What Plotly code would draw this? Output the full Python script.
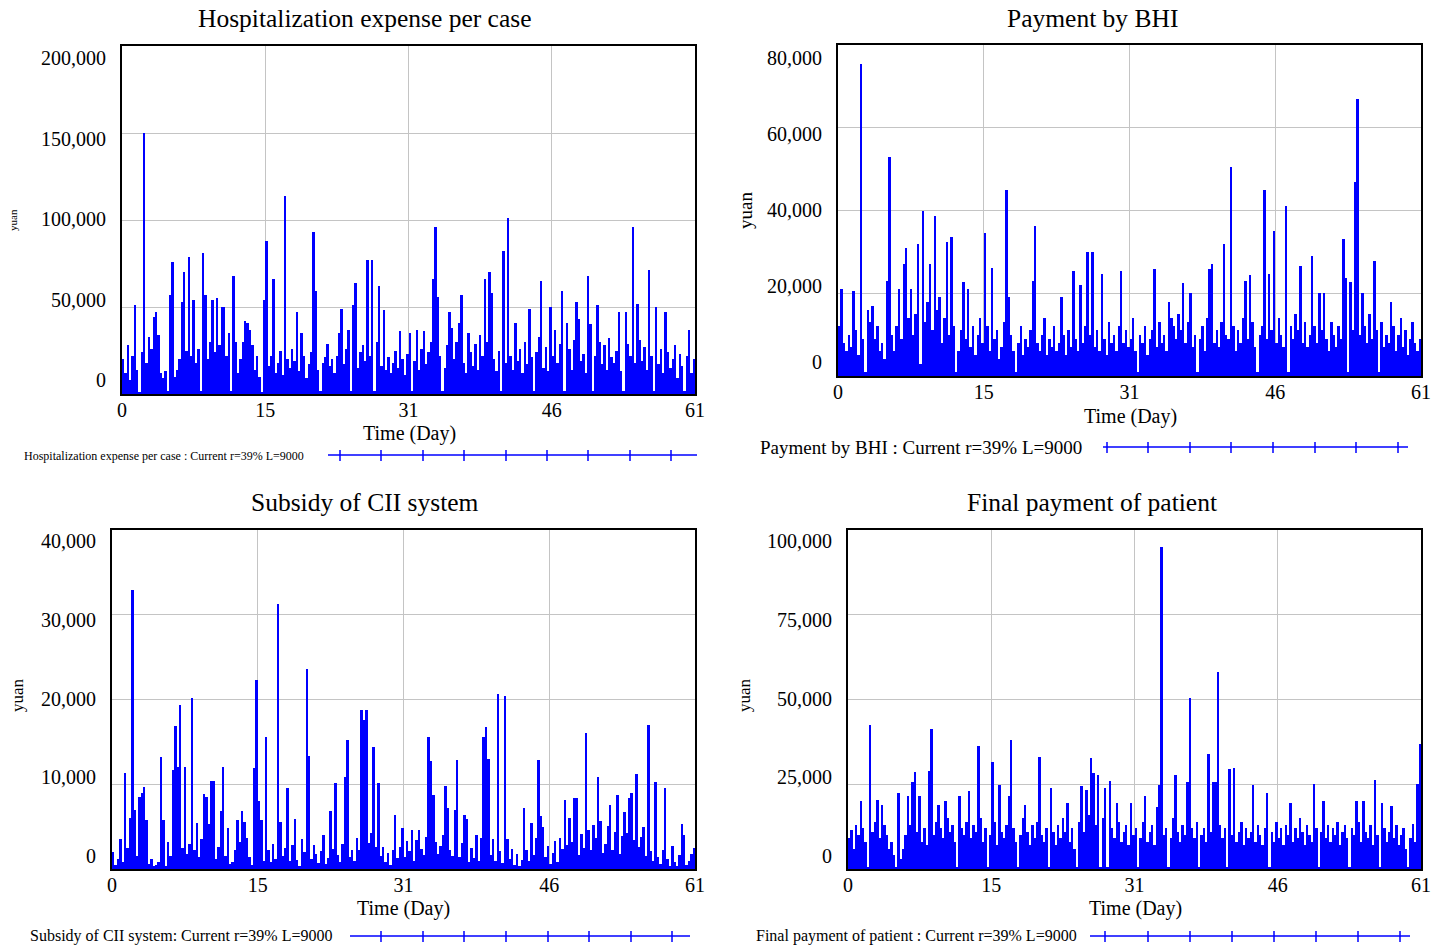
import plotly.graph_objects as go

# ---------------- data (thousand yuan, one value per 0.25 day) ----------------
TIME_STEP_DAY = 0.25
N_STEPS = 244

hosp_expense_k = [
    20, 12, 28, 8, 22, 51, 14, 1, 24, 150,
    18, 33, 26, 44, 47, 34, 12, 9, 13, 2,
    57, 76, 10, 14, 20, 53, 70, 25, 79, 22,
    54, 18, 26, 2, 81, 57, 20, 30, 54, 24,
    55, 28, 50, 50, 22, 35, 1.5, 68, 30, 12,
    20, 30, 42, 41, 37, 28, 14, 22, 10, 1,
    54, 88, 16, 22, 66, 12, 18, 25, 11, 114,
    20, 15, 26, 19, 47, 13, 35, 22, 9, 17,
    24, 93, 59, 14, 1.5, 18, 21, 29, 16, 20,
    12, 22, 35, 49, 17, 26, 37, 1.5, 51, 64,
    15, 24, 28, 19, 77, 22, 77, 2, 30, 62,
    16, 48, 14, 21, 12, 18, 25, 15, 36, 20,
    11, 23, 35, 1.5, 19, 37, 14, 26, 36, 17,
    24, 30, 66, 96, 56, 22, 1.5, 15, 28, 47,
    38, 20, 30, 41, 57, 18, 12, 35, 24, 16,
    29, 14, 34, 22, 66, 30, 70, 58, 20, 13,
    25, 2, 82, 18, 101, 22, 14, 41, 19, 26,
    12, 30, 17, 49, 21, 1.5, 24, 33, 65, 15,
    27, 13, 50, 22, 37, 18, 29, 59, 1.5, 41,
    26, 14, 31, 53, 43, 19, 23, 12, 68, 40,
    1.5, 22, 51, 30, 17, 28, 14, 32, 21, 18,
    25, 47, 13, 1.5, 47, 29, 22, 96, 18, 52,
    31, 19, 27, 14, 71, 22, 1.5, 50, 17, 26,
    12, 47, 24, 15, 20, 28, 9, 23, 16, 1.5,
    22, 37, 12, 20,
]

bhi_payment_k = [
    12, 21, 8, 6, 10, 7, 20.5, 11, 5, 75.5,
    9, 1, 16, 13, 17, 9, 12, 6, 8, 4,
    23, 53, 10, 6, 12, 21, 9, 27, 31, 14,
    21, 10, 15, 32, 3, 40, 13, 18, 27, 11,
    38.7, 16, 19, 8, 14, 32.5, 10, 33.7, 12, 1,
    6, 11, 22.8, 9, 21, 7, 12, 5, 10, 14,
    8, 34.5, 12, 6, 26, 9, 11, 4, 7, 13,
    45, 19, 10, 6, 1, 8, 12, 5, 9, 7,
    11, 23, 36.3, 8, 6, 10, 14, 5, 9, 7,
    12, 6, 8, 19, 10, 5, 11, 7, 25.4, 9,
    6, 22, 8, 12, 30, 10, 30, 7, 11, 6,
    24.6, 9, 5, 13, 8, 10, 6, 12, 25.4, 8,
    11, 7, 9, 14, 6, 1, 10, 8, 12, 5,
    9, 11, 25.8, 7, 13, 8, 10, 6, 18, 14,
    12, 9, 15, 11, 22.5, 8, 13, 20, 7, 10,
    1, 9, 12, 6, 14, 25.8, 27, 8, 11, 7,
    13, 32, 10, 9, 50.5, 12, 6, 11, 8, 14,
    23, 9, 24.3, 13, 7, 1, 10, 12, 45, 9,
    24.6, 11, 35, 8, 14, 10, 7, 41, 1, 12,
    9, 15, 11, 26.6, 8, 13, 7, 10, 29, 12,
    8, 20, 11, 20, 9, 6, 13, 10, 7, 12,
    9, 33, 23.6, 1, 22.8, 11, 47, 67, 10, 20,
    12, 8, 15, 9, 27.8, 11, 1, 13, 7, 10,
    8, 18, 12, 6, 10, 14, 7, 11, 5, 9,
    13, 8, 6, 9,
]

cii_subsidy_k = [
    2, 0.5, 1.2, 3.5, 0.8, 11.3, 2.5, 6, 32.9, 7,
    1.5, 8.5, 9, 9.7, 5.8, 0.6, 1.2, 0.3, 0.5, 0.8,
    13.2, 5.8, 0.4, 3.2, 1.5, 11.7, 16.9, 12, 19.4, 2.5,
    12, 1.8, 3, 20.2, 2.2, 5.4, 1.4, 3.5, 8.8, 8.5,
    5.3, 10.4, 10.4, 1.2, 2.6, 6.8, 12, 1.5, 4.8, 0.6,
    0.8, 2.2, 5.8, 3.2, 6.9, 5.5, 3.6, 1.4, 0.5, 11.9,
    22.3, 8, 5.8, 1, 15.6, 2.2, 0.8, 3, 1.2, 31.3,
    5.6, 1.5, 2.5, 9.6, 0.9, 2.8, 5.9, 1.1, 0.4, 3.5,
    2, 23.6, 13.3, 1.2, 2.8, 1.8, 0.7, 2.1, 4, 0.6,
    1.3, 6.8, 2.4, 10.2, 1.7, 0.8, 2.9, 10.9, 15.2, 1.4,
    2.2, 0.9, 3.6, 2.3, 18.8, 17.6, 18.8, 3.1, 4.2, 14.4,
    2.6, 10.2, 1.5, 2.6, 0.8, 1.9, 0.5, 2.2, 6.4, 1.3,
    2.6, 4.8, 1.4, 3.3, 2.1, 4.6, 0.9, 3.4, 4.6, 2.4,
    1.6, 3.8, 15.6, 12.7, 8.7, 3.2, 1.8, 2.7, 4, 9.8,
    7.2, 2.2, 1.5, 7, 12.9, 1.4, 3.1, 6.4, 5.9, 0.8,
    2.5, 1.3, 4, 0.9, 3.6, 15.6, 16.8, 13, 1.6, 3.5,
    1, 20.6, 2.1, 0.7, 20.4, 3.5, 1.2, 2.4, 0.5, 1.8,
    0.4, 1.1, 7.2, 2.3, 0.9, 5.4, 1.6, 3.7, 12.9, 6.2,
    4.9, 1.4, 2.7, 0.6, 1.9, 3.3, 0.8, 3.6, 2.4, 8.2,
    2.8, 6, 3.2, 8.4, 8.4, 1.7, 4.1, 2.5, 16, 4.6,
    2.2, 5.2, 3.6, 10.9, 5.7, 1.9, 2.9, 5.1, 7.6, 2.3,
    4.4, 8.7, 1.8, 3.9, 6.7, 4.2, 8.4, 9, 3.4, 11.2,
    2.6, 3.8, 4.9, 1.5, 17, 2.1, 0.9, 10.3, 1.4, 0.6,
    2.2, 9.5, 1.2, 0.4, 2.7, 0.8, 0.3, 1.6, 5.3, 4,
    0.5, 0.9, 1.8, 2.5,
]

patient_payment_k = [
    9, 11.4, 6, 13, 10, 20, 12, 8, 0.5, 42.6,
    11, 14, 20.4, 9, 19, 13, 10, 6, 8, 4,
    0.5, 22.5, 3, 6, 10, 21.4, 13, 25.8, 28.7, 11,
    21.4, 8, 12, 7, 29, 41.2, 10, 14, 19, 12,
    9, 20, 15, 11, 13, 8, 0.5, 21.6, 12, 10,
    14, 23, 9, 13, 11, 36.3, 15, 8, 12, 0.5,
    10, 31.5, 14, 7, 24.8, 11, 9, 13, 21.4, 38,
    12, 8, 0.5, 10, 15, 19, 11, 7, 13, 9,
    14, 33, 10, 8, 12, 0.5, 24, 11, 7, 13,
    9, 15, 11, 19.4, 8, 12, 6, 0.5, 14, 24.5,
    11, 23.3, 16, 32.6, 28.4, 13, 27.7, 0.5, 15, 23.8,
    0.5, 26, 12, 9, 19.4, 14, 8, 11, 13, 7,
    19.4, 10, 12, 0.5, 9, 14, 21.4, 8, 11, 13,
    7, 18.4, 24.8, 95, 10, 12, 0.5, 9, 15, 27.7,
    11, 8, 13, 10, 25.8, 50.5, 12, 9, 14, 0.5,
    10, 12, 8, 33.8, 11, 25.8, 25.8, 58, 13, 9,
    12, 0.5, 29.5, 10, 29.7, 8, 11, 14, 7, 12,
    9, 11, 24.8, 8, 13, 10, 7, 12, 22.3, 0.5,
    11, 8, 14, 9, 12, 7, 13, 10, 19.4, 8,
    12, 9, 15, 11, 7, 13, 10, 8, 25, 12,
    0.5, 11, 20, 9, 13, 8, 12, 10, 14, 7,
    11, 13, 9, 0.5, 12, 10, 20, 14, 8, 20,
    11, 9, 13, 7, 26.3, 10, 0.5, 19.4, 12, 8,
    11, 18.7, 9, 13, 7, 10, 12, 6, 0.5, 9,
    13.3, 8, 25, 36.8,
]

titles = ["Hospitalization expense per case", "Payment by BHI",
          "Subsidy of CII system", "Final payment of patient"]
legend_texts = ["Hospitalization expense per case : Current r=39% L=9000",
                "Payment by BHI : Current r=39% L=9000",
                "Subsidy of CII system: Current r=39% L=9000",
                "Final payment of patient : Current r=39% L=9000"]
x_tick_vals = [0, 15.25, 30.5, 45.75, 61]
x_tick_text = ["0", "15", "31", "46", "61"]
y_tick_vals = [
    [0, 50000, 100000, 150000, 200000],
    [0, 20000, 40000, 60000, 80000],
    [0, 10000, 20000, 30000, 40000],
    [0, 25000, 50000, 75000, 100000],
]
y_tick_text = [[f"{v:,}" for v in vals] for vals in y_tick_vals]
y_max = [200000, 80000, 40000, 100000]

time_day = [i * TIME_STEP_DAY for i in range(N_STEPS)]
series = [hosp_expense_k, bhi_payment_k, cii_subsidy_k, patient_payment_k]
series_yuan = [[v * 1000 for v in s] for s in series]

# ---------------- layout geometry (pixels of the 1445x949 page) ----------------
W, H = 1445, 949
FONT = "Liberation Serif"
BLUE = "#0000ff"


def px(x):
    return x / W


def py(y):
    return 1 - y / H


# plot boxes: left, right, top, bottom
boxes = [(122, 695, 46, 394), (838, 1421, 45, 376),
         (112, 695, 530, 869), (848, 1421, 530, 869)]
# vertical centres of the first (0) and last y tick label; labels evenly spaced between
ylabel_span = [(380, 58), (362, 58), (856, 541), (856, 541)]
title_pos = [(365, 19), (1092, 19), (365, 502), (1092, 502)]
xtitle_pos = [(409, 434), (1130, 416), (403, 908), (1135, 908)]
yuan_pos = [(13, 220, 11), (746, 211, 19), (17, 695, 17), (744, 695, 17)]
legend_text = [(22, 456, 12), (758, 447, 19), (28, 936, 16), (754, 936, 16)]
legend_line = [(328, 697, 455), (1103, 1408, 447), (350, 690, 936), (1090, 1410, 936)]
legend_marks = [
    [340, 381, 423, 464, 506, 547, 588, 630, 671],
    [1107, 1148, 1190, 1231, 1273, 1315, 1356, 1398],
    [381, 423, 464, 506, 548, 589, 631, 672],
    [1105, 1148, 1190, 1232, 1274, 1316, 1358, 1400],
]

fig = go.Figure()
annotations = []
shapes = []

for k in range(4):
    sfx = "" if k == 0 else str(k + 1)
    xa, ya = "x" + sfx, "y" + sfx
    fig.add_trace(go.Bar(
        x=time_day, y=series_yuan[k], xaxis=xa, yaxis=ya,
        width=TIME_STEP_DAY, offset=0,
        marker=dict(color=BLUE, line=dict(width=0)),
        showlegend=False, name=titles[k],
    ))
    l, r, t, b = boxes[k]
    axis_common = dict(
        showgrid=True, gridcolor="#c4c4c4", gridwidth=1,
        showline=True, mirror=True, linecolor="black", linewidth=2,
        zeroline=False, ticks="", automargin=False,
        tickfont=dict(family=FONT, size=20, color="black"),
    )
    fig.update_layout(**{
        "xaxis" + sfx: dict(domain=[px(l), px(r)], anchor=ya, range=[0, 61],
                            tickmode="array", tickvals=x_tick_vals, ticktext=x_tick_text,
                            ticklabelstandoff=-3, **axis_common),
        "yaxis" + sfx: dict(domain=[py(b), py(t)], anchor=xa, range=[0, y_max[k]],
                            tickmode="array", tickvals=y_tick_vals[k],
                            showticklabels=False, **axis_common),
    })
    # y tick labels (Vensim places them evenly, slightly inside the gridline span)
    y0_lab, y1_lab = ylabel_span[k]
    n_lab = len(y_tick_text[k])
    for j, lab in enumerate(y_tick_text[k]):
        yy_lab = y0_lab + (y1_lab - y0_lab) * j / (n_lab - 1)
        annotations.append(dict(text=lab, x=px(l - 14), y=py(yy_lab), xref="paper", yref="paper",
                                showarrow=False, xanchor="right", yanchor="middle",
                                font=dict(family=FONT, size=20, color="black")))
    # title
    tx, ty = title_pos[k]
    annotations.append(dict(text=titles[k], x=px(tx), y=py(ty), xref="paper", yref="paper",
                            showarrow=False, xanchor="center", yanchor="middle",
                            font=dict(family=FONT, size=25.5, color="black")))
    # x axis title
    ax_, ay_ = xtitle_pos[k]
    annotations.append(dict(text="Time (Day)", x=px(ax_), y=py(ay_), xref="paper", yref="paper",
                            showarrow=False, xanchor="center", yanchor="middle",
                            font=dict(family=FONT, size=20, color="black")))
    # y axis title
    yx, yy, ys = yuan_pos[k]
    annotations.append(dict(text="yuan", x=px(yx), y=py(yy), xref="paper", yref="paper",
                            showarrow=False, xanchor="center", yanchor="middle", textangle=-90,
                            font=dict(family=FONT, size=ys, color="black")))
    # legend text
    lx, ly, ls = legend_text[k]
    annotations.append(dict(text=legend_texts[k], x=px(lx), y=py(ly), xref="paper", yref="paper",
                            showarrow=False, xanchor="left", yanchor="middle",
                            font=dict(family=FONT, size=ls, color="black")))
    # legend line with markers
    x0, x1, yl = legend_line[k]
    shapes.append(dict(type="line", xref="paper", yref="paper",
                       x0=px(x0), x1=px(x1), y0=py(yl), y1=py(yl),
                       line=dict(color=BLUE, width=1.5)))
    for mx in legend_marks[k]:
        shapes.append(dict(type="line", xref="paper", yref="paper",
                           x0=px(mx), x1=px(mx), y0=py(yl - 5), y1=py(yl + 6),
                           line=dict(color=BLUE, width=1.5)))

fig.update_layout(
    width=W, height=H,
    margin=dict(l=0, r=0, t=0, b=0, autoexpand=False),
    paper_bgcolor="white", plot_bgcolor="white",
    bargap=0, showlegend=False,
    annotations=annotations, shapes=shapes,
    font=dict(family=FONT, color="black"),
)

# remove the default 8px page margin so the figure fills the window exactly
fig.write_html("out.html", config={"displayModeBar": False},
               post_script="document.body.style.margin='0';")
